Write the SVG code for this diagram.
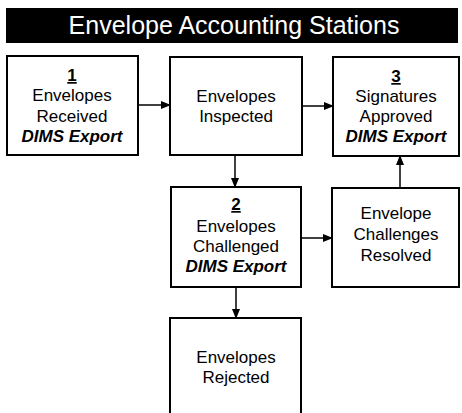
<svg xmlns="http://www.w3.org/2000/svg" width="462" height="413" viewBox="0 0 462 413">
<style>
.box{fill:#fff;stroke:#000;stroke-width:2}
.t{font-family:"Liberation Sans",Arial,sans-serif;font-size:17px;fill:#000;text-anchor:middle}
.n{font-weight:bold;text-decoration:underline}
.d{font-weight:bold;font-style:italic}
.c{stroke:#000;stroke-width:1.5;fill:none;marker-end:url(#ah)}
</style>
<defs>
<marker id="ah" markerWidth="10" markerHeight="8" refX="9" refY="4" orient="auto" markerUnits="userSpaceOnUse">
<path d="M0,0 L10,4 L0,8 Z" fill="#000"/>
</marker>
</defs>
<g id="title">
<rect x="6" y="8" width="452" height="35" fill="#000"/>
<text x="234" y="34" font-family="Liberation Sans,Arial,sans-serif" font-size="25" fill="#fff" text-anchor="middle">Envelope Accounting Stations</text>
</g>
<g id="connectors">
<line class="c" x1="138" y1="105" x2="170" y2="105"/>
<line class="c" x1="302" y1="106" x2="333" y2="106"/>
<line class="c" x1="235" y1="155" x2="235" y2="187"/>
<line class="c" x1="301" y1="238" x2="332" y2="238"/>
<line class="c" x1="400" y1="188" x2="400" y2="156"/>
<line class="c" x1="236" y1="287" x2="236" y2="318"/>
</g>
<g id="n1">
<rect class="box" x="7" y="56" width="131" height="99"/>
<text class="t n" x="72" y="81">1</text>
<text class="t" x="72" y="101">Envelopes</text>
<text class="t" x="72" y="122">Received</text>
<text class="t d" x="72" y="142">DIMS Export</text>
</g>
<g id="inspected">
<rect class="box" x="170" y="57" width="132" height="98"/>
<text class="t" x="236" y="102">Envelopes</text>
<text class="t" x="236" y="122">Inspected</text>
</g>
<g id="n3">
<rect class="box" x="333" y="57" width="126" height="99"/>
<text class="t n" x="396" y="82">3</text>
<text class="t" x="396" y="102">Signatures</text>
<text class="t" x="396" y="122">Approved</text>
<text class="t d" x="396" y="142">DIMS Export</text>
</g>
<g id="n2">
<rect class="box" x="171" y="187" width="130" height="100"/>
<text class="t n" x="236" y="210">2</text>
<text class="t" x="236" y="232">Envelopes</text>
<text class="t" x="236" y="252">Challenged</text>
<text class="t d" x="236" y="272">DIMS Export</text>
</g>
<g id="resolved">
<rect class="box" x="332" y="188" width="127" height="99"/>
<text class="t" x="396" y="219">Envelope</text>
<text class="t" x="396" y="240">Challenges</text>
<text class="t" x="396" y="261">Resolved</text>
</g>
<g id="rejected">
<rect class="box" x="170" y="318" width="131" height="110"/>
<text class="t" x="236" y="363">Envelopes</text>
<text class="t" x="236" y="383">Rejected</text>
</g>
</svg>
